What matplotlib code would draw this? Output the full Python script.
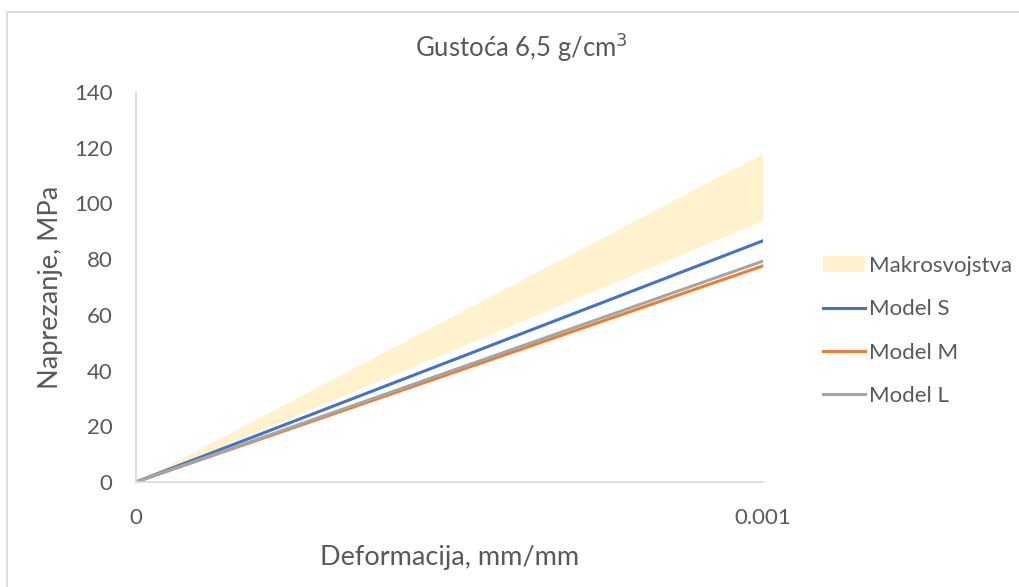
import matplotlib
matplotlib.use("Agg")
import matplotlib.pyplot as plt
from matplotlib.patches import Rectangle

plt.rcParams['font.family'] = ['Lato', 'DejaVu Sans']

strain = [0.0, 0.001]
band_upper = [0.0, 118.0]
band_lower = [0.0, 94.0]
model_s = [0.0, 86.6]
model_m = [0.0, 77.6]
model_l = [0.0, 79.3]

title = "Gustoća 6,5 g/cm$^3$"
xlabel = "Deformacija, mm/mm"
ylabel = "Naprezanje, MPa"
xticks = [0.0, 0.001]
xticklabels = ["0", "0.001"]
yticks = [0, 20, 40, 60, 80, 100, 120, 140]

txt = "#595959"
fig = plt.figure(figsize=(10.19, 5.87), dpi=100)
fig.patches.append(Rectangle((7/1019, -0.1), 1.2, 1 - 12/587 + 0.1, transform=fig.transFigure,
                             fill=False, edgecolor="#d9d9d9", linewidth=1.2))
ax = fig.add_axes([136/1019, 1 - 482/587, (763-136)/1019, (482-92)/587])

ax.fill_between(strain, band_lower, band_upper, color="#fff2cc", linewidth=0, label="Makrosvojstva")
ax.plot(strain, model_s, color="#4472c4", lw=2.2, label="Model S")
ax.plot(strain, model_m, color="#ed7d31", lw=2.2, label="Model M")
ax.plot(strain, model_l, color="#a5a5a5", lw=2.2, label="Model L")

ax.set_xlim(0, 0.001)
ax.set_ylim(0, 140)
ax.set_xticks(xticks)
ax.set_xticklabels(xticklabels)
ax.set_yticks(yticks)
for s in ["top", "right"]:
    ax.spines[s].set_visible(False)
for s in ["left", "bottom"]:
    ax.spines[s].set_color("#d9d9d9")
    ax.spines[s].set_linewidth(1.2)
ax.tick_params(length=0, labelsize=16, labelcolor=txt)
ax.tick_params(axis="x", pad=19)
ax.tick_params(axis="y", pad=17)
ax.set_xlabel(xlabel, fontsize=19.5, color=txt, labelpad=12)
ax.set_ylabel(ylabel, fontsize=19.5, color=txt, labelpad=8)
fig.text(521/1019, 1 - 47/587, title, fontsize=18.5, color=txt, ha="center", va="center")

leg = ax.legend(loc="center left", bbox_to_anchor=(823/1019, 1 - 331/587), bbox_transform=fig.transFigure,
                frameon=False, fontsize=16, labelcolor=txt, handlelength=1.9, handletextpad=0.18,
                labelspacing=1.05, borderpad=0, borderaxespad=0)

fig.savefig("out.png", dpi=100)
